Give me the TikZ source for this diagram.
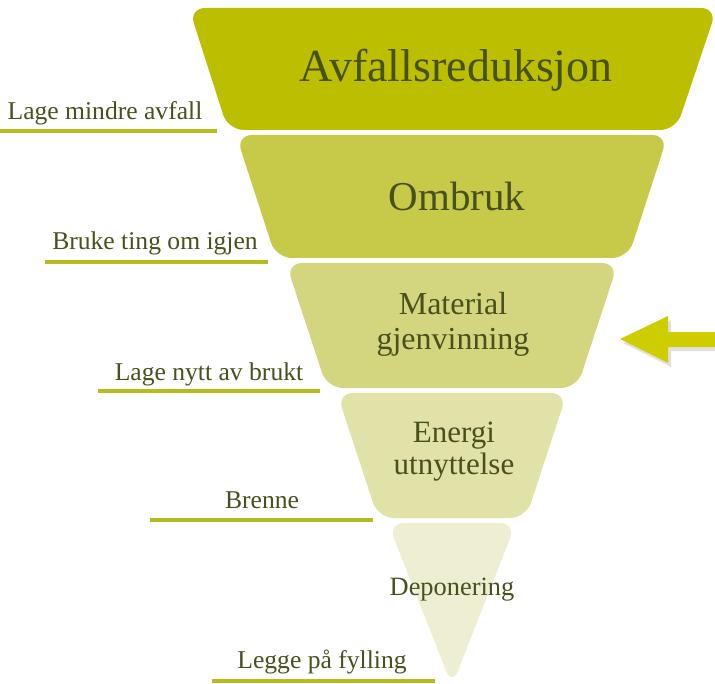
\documentclass[tikz,border=0pt]{standalone}
\usepackage{fontspec}
\setmainfont{Liberation Serif}
\usetikzlibrary{positioning, calc}
\definecolor{lvlA}{RGB}{187,191,0}
\definecolor{lvlB}{RGB}{198,202,72}
\definecolor{lvlC}{RGB}{211,214,126}
\definecolor{lvlD}{RGB}{224,226,168}
\definecolor{lvlE}{RGB}{237,238,210}
\definecolor{txtgreen}{RGB}{72,80,28}
\definecolor{linegreen}{RGB}{182,188,30}
\definecolor{arrowgreen}{RGB}{205,205,0}

\begin{document}
\begin{tikzpicture}[x=0.5pt, y=-0.5pt, piece/.style={rounded corners=8pt}, title/.style={text=txtgreen, align=center}, lbl/.style={text=txtgreen, font=\fontsize{12.8}{14}\selectfont}, uline/.style={draw=linegreen, line width=1.6pt}]
\useasboundingbox (0,0) rectangle (715,683);
% funnel
\fill[piece, fill=lvlA] (189,8) -- (717,8) -- (676,130) -- (228,130) -- cycle;
\fill[piece, fill=lvlB] (236,135) -- (668,135) -- (628,258) -- (276,258) -- cycle;
\fill[piece, fill=lvlC] (286,263) -- (618,263) -- (577,388) -- (327,388) -- cycle;
\fill[piece, fill=lvlD] (337,393) -- (567,393) -- (526,518) -- (378,518) -- cycle;
\fill[piece, fill=lvlE] (388,523) -- (516,523) -- (452,686) -- cycle;
\node (avfall) [title, font=\fontsize{23}{25}\selectfont] at (456,70) {Avfallsreduksjon};
\node (ombruk) [title, font=\fontsize{20.5}{22}\selectfont] at (457,196) {Ombruk};
\node (material) [title, font=\fontsize{16}{17.5}\selectfont] at (453,324) {Material\\gjenvinning};
\node (energi) [title, font=\fontsize{15.5}{16}\selectfont] at (454,452) {Energi\\utnyttelse};
\node (deponering) [title, font=\fontsize{13.2}{15}\selectfont] at (452,590) {Deponering};
% labels
\node (mindre) [lbl] at (105,113) {Lage mindre avfall};
\draw[uline] (0,131) -- (217,131);
\node (bruke) [lbl] at (155,243) {Bruke ting om igjen};
\draw[uline] (45,262) -- (268,262);
\node (nytt) [lbl] at (209,374) {Lage nytt av brukt};
\draw[uline] (98,391) -- (320,391);
\node (brenne) [lbl] at (262,500) {Brenne};
\draw[uline] (150,520) -- (373,520);
\node (fylling) [lbl] at (322,662) {Legge på fylling};
\draw[uline] (212,681) -- (435,681);
% arrow
\fill[black, opacity=0.12] (623,343) -- (671,320) -- (671,336) -- (718,336) -- (718,351) -- (671,351) -- (671,367) -- cycle;
\fill[arrowgreen] (620,339) -- (668,316) -- (668,332) -- (715,332) -- (715,347) -- (668,347) -- (668,363) -- cycle;
\end{tikzpicture}
\end{document}
